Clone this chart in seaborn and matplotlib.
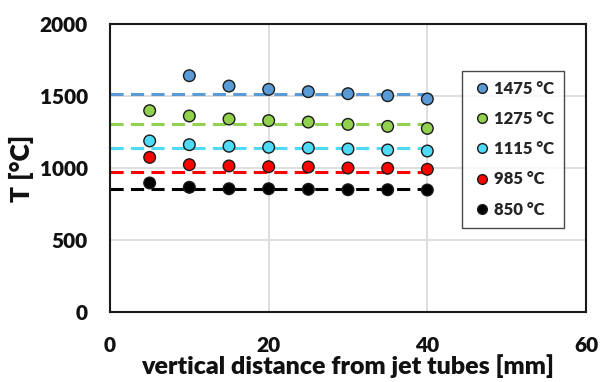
import numpy as np
import pandas as pd
import matplotlib
matplotlib.use("Agg")
import matplotlib.pyplot as plt
import seaborn as sns

# Measured temperatures along the vertical profile
distance = [5, 10, 15, 20, 25, 30, 35, 40]
t_1475 = [np.nan, 1641, 1569, 1546, 1530, 1516, 1502, 1479]
t_1275 = [1398, 1361, 1340, 1329, 1319, 1303, 1289, 1275]
t_1115 = [1188, 1162, 1151, 1144, 1139, 1132, 1125, 1118]
t_985 = [1074, 1023, 1014, 1009, 1007, 1000, 998, 991]
t_850 = [896, 866, 856, 856, 852, 849, 849, 847]

series_labels = ["1475 °C", "1275 °C", "1115 °C", "985 °C", "850 °C"]
marker_colors = ["#5B9BD5", "#92D050", "#4FDBF5", "#FF0000", "#000000"]
line_colors = ["#5B9BD5", "#92D050", "#4FDBF5", "#FF0000", "#000000"]

# Reference (set-point) levels drawn as dashed lines
ref_levels = [1517, 1305, 1141, 970, 854]
ref_x = [0, 41]

x_ticks = [0, 20, 40, 60]
y_ticks = [0, 500, 1000, 1500, 2000]

sns.set_theme(style="white")
plt.rcParams["font.family"] = ["Lato", "DejaVu Sans"]
plt.rcParams["font.weight"] = "heavy"

fig = plt.figure(figsize=(6.01, 3.82), dpi=100)
ax = fig.add_axes([110 / 601, 1 - 312 / 382, 476 / 601, 288 / 382])

rows = []
for lab, vals in zip(series_labels, [t_1475, t_1275, t_1115, t_985, t_850]):
    for d, v in zip(distance, vals):
        rows.append({"distance": d, "T": v, "series": lab})
df = pd.DataFrame(rows).dropna()

ref_df = pd.DataFrame(
    [{"x": xx, "T": lvl, "series": lab}
     for lab, lvl in zip(series_labels, ref_levels) for xx in ref_x]
)

sns.lineplot(data=ref_df, x="x", y="T", hue="series", hue_order=series_labels,
             palette=line_colors, linestyle=(0, (4.3, 2.4)), linewidth=2.2,
             legend=False, ax=ax, zorder=2)

sns.scatterplot(data=df, x="distance", y="T", hue="series", hue_order=series_labels,
                palette=marker_colors, s=70, edgecolor="#1a1a1a", linewidth=1.0,
                ax=ax, zorder=3)

ax.set_xlim(0, 60)
ax.set_ylim(0, 2000)
ax.set_xticks(x_ticks)
ax.set_yticks(y_ticks)
ax.grid(True, color="#D9D9D9", linewidth=1.2)
ax.set_axisbelow(True)
for sp in ax.spines.values():
    sp.set_visible(True)
    sp.set_color("#1a1a1a")
    sp.set_linewidth(1.5)

ax.tick_params(axis="both", length=0, labelsize=15, colors="#111111")
ax.tick_params(axis="y", pad=16)
ax.tick_params(axis="x", pad=17)
for lbl in ax.get_xticklabels() + ax.get_yticklabels():
    lbl.set_fontweight("heavy")

ax.set_xlabel("vertical distance from jet tubes [mm]", fontsize=18,
              fontweight="heavy", color="#111111", labelpad=0)
ax.set_ylabel("T [°C]", fontsize=19, fontweight="heavy", color="#111111",
              labelpad=4)

handles, labels = ax.get_legend_handles_labels()
for h in handles:
    h.set_markersize(7)
leg = ax.legend(handles, labels, loc="upper left",
                bbox_to_anchor=((462 - 110) / 476, 1 - (71 - 24) / 288),
                frameon=True, fancybox=False, edgecolor="#1a1a1a",
                prop={"weight": "heavy", "size": 12},
                labelspacing=0.85, handletextpad=0.1, borderpad=0.6,
                handlelength=1.2, borderaxespad=0)
leg.get_frame().set_linewidth(1.0)

fig.savefig("out.png", dpi=100)
